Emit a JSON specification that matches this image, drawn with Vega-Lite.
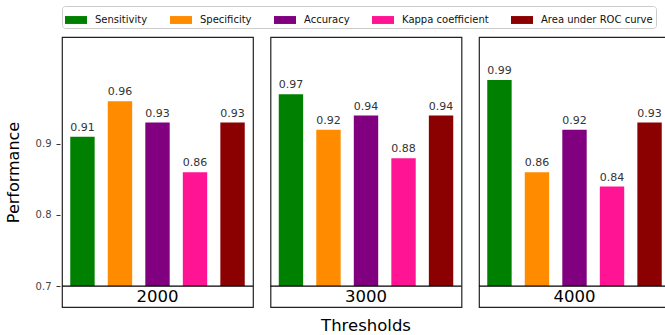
{
  "$schema": "https://vega.github.io/schema/vega-lite/v6.json",
  "data": {"values": [
    {"threshold": "2000", "metric": "Sensitivity", "value": 0.91},
    {"threshold": "2000", "metric": "Specificity", "value": 0.96},
    {"threshold": "2000", "metric": "Accuracy", "value": 0.93},
    {"threshold": "2000", "metric": "Kappa coefficient", "value": 0.86},
    {"threshold": "2000", "metric": "Area under ROC curve", "value": 0.93},
    {"threshold": "3000", "metric": "Sensitivity", "value": 0.97},
    {"threshold": "3000", "metric": "Specificity", "value": 0.92},
    {"threshold": "3000", "metric": "Accuracy", "value": 0.94},
    {"threshold": "3000", "metric": "Kappa coefficient", "value": 0.88},
    {"threshold": "3000", "metric": "Area under ROC curve", "value": 0.94},
    {"threshold": "4000", "metric": "Sensitivity", "value": 0.99},
    {"threshold": "4000", "metric": "Specificity", "value": 0.86},
    {"threshold": "4000", "metric": "Accuracy", "value": 0.92},
    {"threshold": "4000", "metric": "Kappa coefficient", "value": 0.84},
    {"threshold": "4000", "metric": "Area under ROC curve", "value": 0.93}
  ]},
  "facet": {
    "column": {
      "field": "threshold", "type": "nominal",
      "header": {"labels": false, "title": "Thresholds", "titleOrient": "bottom", "titleFontSize": 16.5, "titleFontWeight": "normal", "titleColor": "#000", "titlePadding": 0, "labelPadding": 0, "titleFont": "DejaVu Sans"}
    }
  },
  "spacing": 13.5,
  "spec": {
    "width": 191,
    "height": 270,
    "layer": [
      {
        "mark": {"type": "bar"},
        "encoding": {
          "x": {"field": "metric", "type": "nominal", "sort": ["Sensitivity", "Specificity", "Accuracy", "Kappa coefficient", "Area under ROC curve"], "axis": null, "scale": {"paddingInner": 0.35, "paddingOuter": 0.22}},
          "y": {"field": "value", "type": "quantitative", "scale": {"domain": [0.6705, 1.0505], "zero": false, "nice": false},
            "axis": {"values": [0.7, 0.8, 0.9], "format": ".1f", "domain": false, "grid": false, "tickSize": 4, "tickColor": "#333", "labelColor": "#444", "labelFontSize": 10, "labelPadding": 5, "title": "Performance", "titleFontSize": 16, "titleFontWeight": "normal", "titleColor": "#000", "titlePadding": 14}},
          "y2": {"datum": 0.7},
          "color": {"field": "metric", "type": "nominal", "sort": ["Sensitivity", "Specificity", "Accuracy", "Kappa coefficient", "Area under ROC curve"],
            "scale": {"domain": ["Sensitivity", "Specificity", "Accuracy", "Kappa coefficient", "Area under ROC curve"], "range": ["#008000", "#ff8c00", "#800080", "#ff1493", "#8b0000"]},
            "legend": {"title": null, "orient": "top", "direction": "horizontal"}}
        }
      },
      {
        "mark": {"type": "text", "baseline": "bottom", "dy": -4, "fontSize": 11, "color": "#333"},
        "encoding": {
          "x": {"field": "metric", "type": "nominal", "sort": ["Sensitivity", "Specificity", "Accuracy", "Kappa coefficient", "Area under ROC curve"]},
          "y": {"field": "value", "type": "quantitative"},
          "text": {"field": "value", "type": "quantitative", "format": ".2f"}
        }
      },
      {
        "transform": [{"filter": "datum.metric === 'Accuracy'"}],
        "mark": {"type": "rule", "color": "#000", "strokeWidth": 1.2},
        "encoding": {"y": {"datum": 0.7}}
      },
      {
        "transform": [{"filter": "datum.metric === 'Accuracy'"}],
        "mark": {"type": "text", "baseline": "middle", "fontSize": 16.5, "color": "#000"},
        "encoding": {
          "x": {"field": "metric", "type": "nominal", "sort": ["Sensitivity", "Specificity", "Accuracy", "Kappa coefficient", "Area under ROC curve"]},
          "y": {"datum": 0.6852},
          "text": {"field": "threshold", "type": "nominal"}
        }
      }
    ]
  },
  "config": {
    "font": "DejaVu Sans",
    "view": {"stroke": "#222", "strokeWidth": 1.2},
    "legend": {
      "labelFontSize": 10, "labelColor": "#111", "symbolType": "M-1,-0.36 L1,-0.36 L1,0.36 L-1,0.36 Z", "symbolSize": 484,
      "symbolStrokeWidth": 0, "symbolOpacity": 1, "columnPadding": 22, "labelOffset": 8,
      "strokeColor": "#ccc", "padding": 3, "cornerRadius": 3, "offset": 8
    }
  }
}
